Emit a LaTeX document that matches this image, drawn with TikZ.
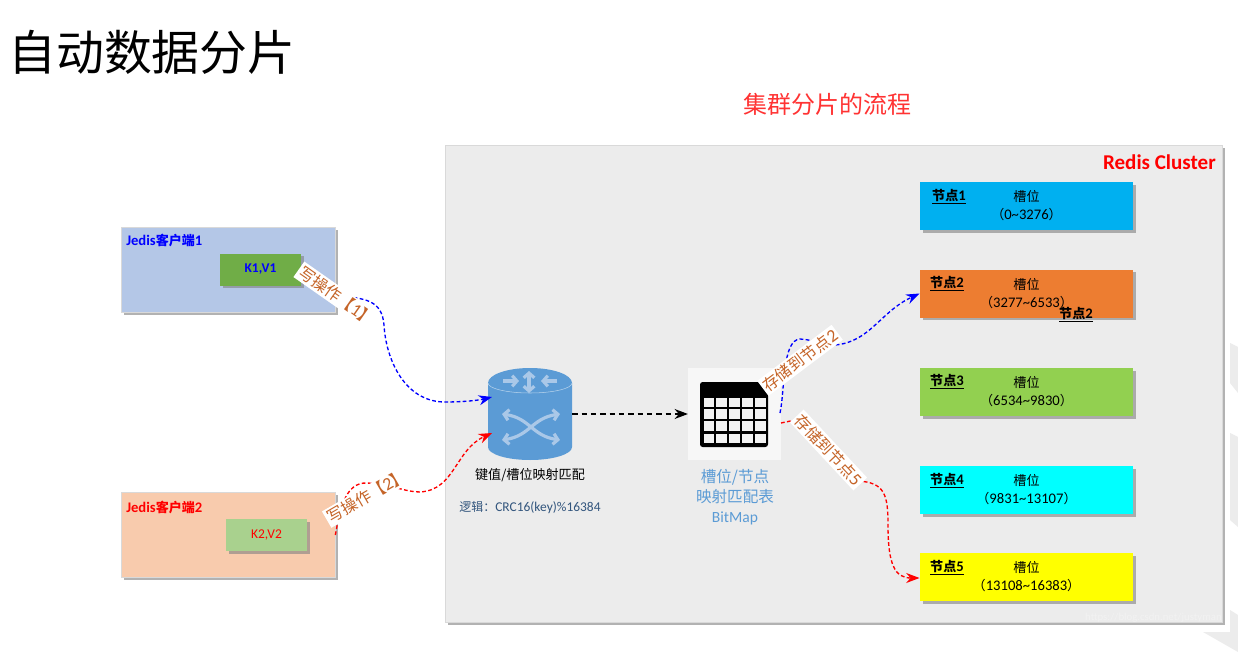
\documentclass[tikz,border=0pt]{standalone}
\usepackage{fontspec}
\usetikzlibrary{positioning, arrows.meta, shadows}
\setmainfont{Noto Sans CJK SC}
\newfontfamily\lat[Scale=1.12]{Carlito}
\definecolor{clusterbg}{RGB}{236,236,236}
\definecolor{clientblue}{RGB}{180,199,231}
\definecolor{clientpeach}{RGB}{248,203,173}
\definecolor{keygreen}{RGB}{112,173,71}
\definecolor{keylight}{RGB}{169,209,142}
\definecolor{opcol}{RGB}{197,100,40}
\definecolor{iconblue}{RGB}{91,155,213}
\definecolor{iconarrow}{RGB}{170,200,232}
\definecolor{logiccol}{RGB}{50,85,125}
\definecolor{cellcol}{RGB}{242,242,242}
\definecolor{markcol}{RGB}{236,236,236}
\definecolor{slotblue}{RGB}{0,176,240}
\definecolor{slotorange}{RGB}{237,125,49}
\definecolor{slotgreen}{RGB}{146,208,80}
\definecolor{slotcyan}{RGB}{0,255,255}
\definecolor{slotyellow}{RGB}{255,255,0}

\begin{document}
\begin{tikzpicture}[
			x=0.75pt,
			y=-0.75pt,
			boxshadow/.style={
				drop shadow={shadow xshift=2.2pt, shadow yshift=-2.2pt, fill=black!50, opacity=0.6}
			},
			flatbox/.style={
				draw=black!15,
				line width=0.5pt,
				boxshadow,
				inner sep=0pt
			},
			clientbox/.style={
				flatbox,
				minimum width=160.5pt,
				minimum height=64pt
			},
			keybox/.style={
				flatbox,
				draw=none,
				minimum width=61pt,
				minimum height=24pt,
				font=\lat\fontsize{9}{11}\selectfont
			},
			slotbox/.style={
				flatbox,
				draw=none,
				minimum width=160pt,
				minimum height=36pt,
				align=center,
				font=\fontsize{9.8}{13.5}\selectfont
			},
			nodetag/.style={
				font=\bfseries\fontsize{9.8}{11}\selectfont,
				inner sep=0pt
			},
			oplabel/.style={
				fill=white,
				text=opcol,
				inner sep=1.5pt,
				font=\fontsize{12}{13}\selectfont
			},
			bluelink/.style={
				draw=blue,
				dash pattern=on 2.8pt off 1.8pt,
				line width=1pt,
				-{Stealth[length=10pt,width=7.5pt]}
			},
			redlink/.style={
				bluelink,
				draw=red
			},
			blacklink/.style={
				bluelink,
				draw=black,
				dash pattern=on 4pt off 3pt
			},
			iconarrows/.style={
				draw=iconarrow,
				line width=2.4pt,
				{Straight Barb[length=3.5pt,width=8pt]}-{Straight Barb[length=3.5pt,width=8pt]}
			}
			]
			\useasboundingbox (0,0) rectangle (1238,656);
			\fill[white] (0,0) rectangle (1238,656);

			% Watermark behind the slide
			\fill[markcol] (1230,343) -- (1238,347) -- (1238,393) -- (1230,383) -- cycle;
			\fill[markcol] (1230,433) -- (1238,437) -- (1238,527) -- (1230,520) -- cycle;
			\fill[markcol] (1203,632) -- (1230,632) -- (1230,610) -- (1238,615) -- (1238,652) -- cycle;

			% Titles
			\node[inner sep=0pt, anchor=west, font=\fontsize{35.9}{40}\selectfont] (title) at (8,52) {自动数据分片};
			\node[inner sep=0pt, text=red!80!white, font=\fontsize{18}{22}\selectfont] (subtitle) at (827,104) {集群分片的流程};

			% Cluster
			\node[flatbox, fill=clusterbg, minimum width=582.5pt, minimum height=357.5pt] (cluster) at (833.5,383.5) {};
			\node[anchor=east, inner sep=0pt, text=red, font=\lat\bfseries\fontsize{14.1}{16}\selectfont] (clustername) at (1216,162) {Redis Cluster};

			% Clients
			\node[clientbox, fill=clientblue] (client1) at (228,269.5) {};
			\node[clientbox, fill=clientpeach] (client2) at (228,534.5) {};
			\node[nodetag, anchor=west, text=blue] (client1name) at (126,241) {{\lat Jedis}客户端{\lat 1}};
			\node[nodetag, anchor=west, text=red] (client2name) at (126,507) {{\lat Jedis}客户端{\lat 2}};
			\node[keybox, fill=keygreen, text=blue] (k1) at (260.5,269.5) {\bfseries K1,V1};
			\node[keybox, fill=keylight, text=red] (k2) at (266.5,535) {K2,V2};

			% Router
			\fill[iconblue] (488,383) arc[start angle=180, end angle=360, x radius=42, y radius=15]
				-- (572,447) arc[start angle=0, end angle=180, x radius=42, y radius=13] -- cycle;
			\draw[white!55!iconblue, line width=0.4pt] (488,383) arc[start angle=180, end angle=0, x radius=42, y radius=10];
			\node[minimum width=63pt, minimum height=69pt, inner sep=0pt] (router) at (530,414) {};
			\draw[draw=iconarrow, line width=2.4pt, -{Straight Barb[length=3.5pt,width=8pt]}] (503,381) -- (519,381);
			\draw[draw=iconarrow, line width=2.4pt, -{Straight Barb[length=3.5pt,width=8pt]}] (557,381) -- (541,381);
			\draw[iconarrows] (529,371) -- (529,393);
			\draw[iconarrows] (502,440) .. controls (530,436) and (532,418) .. (560,414);
			\draw[iconarrows] (502,414) .. controls (530,418) and (532,436) .. (560,440);
			\node[inner sep=0pt, font=\fontsize{9.8}{12}\selectfont] (routertext) at (530,475) {键值/槽位映射匹配};
			\node[inner sep=0pt, anchor=west, text=logiccol, font=\fontsize{9}{11}\selectfont] (logictext) at (459,508) {逻辑：{\lat CRC16(key)\%16384}};

			% BitMap table
			\node[fill=cellcol!60!white, minimum size=69.5pt, inner sep=0pt] (bitmap) at (734.5,414) {};
			\fill[black, rounded corners=2pt] (700,382) rectangle (768,447);
			\foreach \cx in {703.5,716,729,742,755}
				\foreach \cy in {397.5,409,421,433.5}
					\fill[cellcol] (\cx,\cy) rectangle +(10.5,9.5);
			\node[inner sep=0pt, align=center, text=iconblue, font=\fontsize{11.7}{15}\selectfont] (bitmaptext) at (735,497) {槽位/节点\\映射匹配表\\{\fontsize{10.4}{15}\selectfont\lat BitMap}};

			% Data nodes
			\node[slotbox, fill=slotblue] (node1) at (1026.5,206) {槽位\\（{\lat 0\textasciitilde 3276}）};
			\node[slotbox, fill=slotorange] (node2) at (1026.5,293.5) {槽位\\（{\lat 3277\textasciitilde 6533}）};
			\node[slotbox, fill=slotgreen] (node3) at (1026.5,392) {槽位\\（{\lat 6534\textasciitilde 9830}）};
			\node[slotbox, fill=slotcyan] (node4) at (1026.5,490) {槽位\\（{\lat 9831\textasciitilde 13107}）};
			\node[slotbox, fill=slotyellow] (node5) at (1026.5,577) {槽位\\（{\lat 13108\textasciitilde 16383}）};
			\node[nodetag] (tag1) at (949,197) {\underline{节点{\lat 1}}};
			\node[nodetag] (tag2) at (947,284) {\underline{节点{\lat 2}}};
			\node[nodetag] (tag3) at (947,382) {\underline{节点{\lat 3}}};
			\node[nodetag] (tag4) at (947,481) {\underline{节点{\lat 4}}};
			\node[nodetag] (tag5) at (947,568) {\underline{节点{\lat 5}}};
			\node[nodetag] (tagextra) at (1076,315) {\underline{节点{\lat 2}}};

			% Router inputs
			\coordinate (routerblue) at (492,397);
			\coordinate (routerred) at (492,433);
			\coordinate (bitmapblue) at (780,413);
			\coordinate (bitmapred) at (781,423);

			% Transitions
			\draw[bluelink] (k1.east) .. controls (320,278) and (328,287) .. (337,296)
				node[oplabel, pos=1, rotate=-35] (op1) {写操作【{\lat 1}】}
				.. controls (365,298) and (382,300) .. (384,325)
				.. controls (386,360) and (405,402) .. (445,402)
				.. controls (465,402) and (480,400) .. (routerblue);
			\draw[redlink] (client2.east |- k2.east) .. controls (340,510) and (345,482) .. (367,483)
				node[oplabel, pos=1, yshift=-10pt, rotate=30] (op2) {写操作【{\lat 2}】}
				.. controls (390,484) and (405,492) .. (420,492)
				.. controls (455,490) and (455,450) .. (routerred);
			\draw[blacklink] (router.east |- bitmap.west) -- (bitmap.west);
			\draw[bluelink] (bitmapblue) .. controls (785,390) and (782,340) .. (800,339)
				.. controls (815,340) and (825,345) .. (835,345)
				node[oplabel, pos=0, xshift=0pt, yshift=-16pt, rotate=37] (op3) {存储到节点{\lat 2}}
				.. controls (870,342) and (880,312) .. (node2.west);
			\draw[redlink] (bitmapred) -- (800,419) -- (857,481)
				node[oplabel, pos=0.5, rotate=-47] (op4) {存储到节点{\lat 5}}
				.. controls (885,482) and (888,495) .. (888,525)
				.. controls (888,565) and (895,578) .. (node5.west |- 0,578);

			% Blog mark
			\node[anchor=east, inner sep=0pt, text=white!95!black, font=\lat\fontsize{7.2}{9}\selectfont] (blogmark) at (1222,618) {https://blog.csdn.net/justyman};
		\end{tikzpicture}
\end{document}
